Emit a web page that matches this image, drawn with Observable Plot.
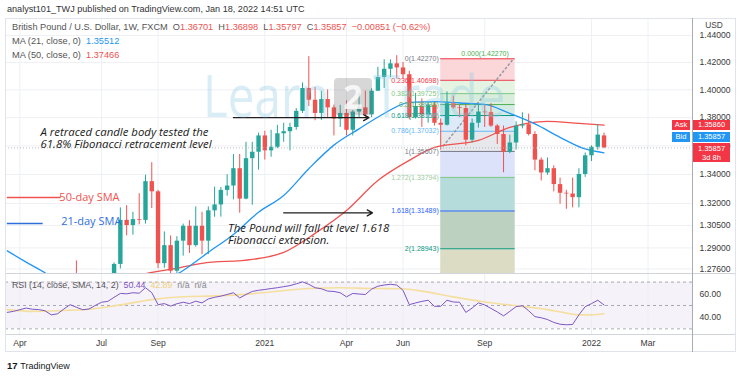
<!DOCTYPE html>
<html><head><meta charset="utf-8">
<script src="https://cdn.jsdelivr.net/npm/d3@7"></script>
<script src="https://cdn.jsdelivr.net/npm/@observablehq/plot@0.6"></script>
<style>
html,body{margin:0;padding:0;background:#fff}
#wrap{position:relative;width:740px;height:376px;overflow:hidden;background:#fff;font-family:"Liberation Sans",Arial,sans-serif;color:#333}
.a{position:absolute;white-space:nowrap;line-height:1}
.pane{position:absolute;left:0}
.ln{position:absolute;background:#e0e3eb}
.box{position:absolute;color:#fff;font-size:7.5px;text-align:center;line-height:10px}
</style></head><body>
<div id="wrap">
  <div id="mainPane" class="pane" style="top:18px"></div>
  <div id="rsiPane" class="pane" style="top:274px"></div>

  <div class="ln" style="left:5px;top:18px;width:730px;height:1px"></div>
  <div class="ln" style="left:5px;top:273px;width:730px;height:1px;background:#d1d4dc"></div>
  <div class="ln" style="left:5px;top:334px;width:730px;height:1px;background:#d1d4dc"></div>
  <div class="ln" style="left:5px;top:351px;width:730px;height:1px"></div>
  <div class="ln" style="left:5px;top:18px;width:1px;height:334px"></div>
  <div class="ln" style="left:735px;top:18px;width:1px;height:334px"></div>
  <div class="ln" style="left:692px;top:18px;width:1px;height:334px;background:#a9acb5"></div>

  <!-- watermark -->
  <div class="a" style="left:203px;top:66px;font-family:'Open Sans';font-size:58px;color:rgba(140,200,228,0.33);transform:scaleX(0.82);transform-origin:left top">Learn</div>
  <div class="a" style="left:334px;top:78px;width:38px;height:37px;border-radius:4px;background:rgba(110,110,110,0.28);color:rgba(255,255,255,0.8);font-family:'Open Sans';font-size:34px;font-weight:700;text-align:center;line-height:37px">2</div>
  <div class="a" style="left:373px;top:66px;font-family:'Open Sans';font-size:58px;color:rgba(140,200,228,0.33);transform:scaleX(0.85);transform-origin:left top">Trade</div>

  <!-- header -->
  <div class="a" style="left:7px;top:5px;font-size:9.1px;color:#333">analyst101_TWJ published on TradingView.com, Jan 18, 2022 14:51 UTC</div>
  <div class="a" style="left:12px;top:23px;font-size:9.2px;color:#555">British Pound / U.S. Dollar, 1W, FXCM&nbsp; <span>O</span><span style="color:#ef5350">1.36701</span>&nbsp; H<span style="color:#ef5350">1.36898</span>&nbsp; L<span style="color:#ef5350">1.35797</span>&nbsp; C<span style="color:#ef5350">1.35857&nbsp; −0.00851 (−0.62%)</span></div>
  <div class="a" style="left:12px;top:37px;font-size:9.2px;color:#555">MA (21, close, 0)&nbsp; <span style="color:#2196f3">1.35512</span></div>
  <div class="a" style="left:12px;top:51px;font-size:9.2px;color:#555">MA (50, close, 0)&nbsp; <span style="color:#ef5350">1.37466</span></div>

  <!-- price axis labels -->
  <div class="a" style="left:700px;top:21px;width:28px;height:10px;background:#fff;font-size:8.4px;color:#444;text-align:center">USD</div>
  <div class="box" style="left:672px;top:120px;width:18px;height:10px;background:#f23645">Ask</div>
  <div class="box" style="left:693px;top:120px;width:37px;height:10px;background:#f23645">1.35860</div>
  <div class="box" style="left:672px;top:132px;width:18px;height:10px;background:#2196f3">Bid</div>
  <div class="box" style="left:693px;top:132px;width:37px;height:10px;background:#2196f3">1.35857</div>
  <div class="box" style="left:693px;top:143px;width:37px;height:19px;background:#f23645;line-height:9px;padding-top:1px;box-sizing:border-box">1.35857<br>3d 8h</div>

  <!-- RSI legend -->
  <div class="a" style="left:12px;top:281px;font-size:8.8px;color:#555">RSI (14, close, SMA, 14, 2)&nbsp; <span style="color:#7e57c2">50.44</span>&nbsp; <span style="color:#f0d27a">42.89</span>&nbsp; <span style="color:#888">n/a&nbsp; n/a</span></div>

  <!-- footer -->
  <div class="a" style="left:7px;top:361px;font-size:9.5px;color:#131722"><b>17</b> <span style="font-size:9px">TradingView</span></div>
</div>
<script>
// ---------- data ----------
const firstWeek = "2020-03-23";
const lastWeekStop = "2022-01-18";
const opens = [1.1610,1.2460,1.2270,1.2455,1.2490,1.2365,1.2490,1.2410,1.2130,1.2165,
 1.2345,1.2670,1.2565,1.2345,1.2335,1.2485,1.2620,1.2570,1.2790,1.3085,
 1.3050,1.3090,1.3085,1.3350,1.3280,1.2795,1.2915,1.2745,1.2945,1.3045,
 1.2915,1.3045,1.2945,1.3150,1.3190,1.3290,1.3320,1.3440,1.3230,1.3510,
 1.3555,1.3670,1.3565,1.3590,1.3685,1.3700,1.3730,1.3845,1.4010,1.3925,
 1.3830,1.3930,1.3870,1.3790,1.3830,1.3710,1.3840,1.3870,1.3820,1.3990,
 1.4090,1.4150,1.4190,1.4160,1.4110,1.3800,1.3880,1.3820,1.3890,1.3760,
 1.3746,1.3900,1.3870,1.3865,1.3640,1.3760,1.3840,1.3835,1.3740,1.3680,
 1.3555,1.3620,1.3740,1.3750,1.3680,1.3500,1.3410,1.3440,1.3330,1.3270,
 1.3265,1.3240,1.3400,1.3530,1.3590,1.36701];
const highs = [1.2487,1.2486,1.2545,1.2648,1.2510,1.2645,1.2500,1.2415,1.2295,1.2375,
 1.2730,1.2813,1.2688,1.2540,1.2530,1.2670,1.2670,1.2800,1.3170,1.3185,
 1.3140,1.3267,1.3395,1.3482,1.3290,1.3007,1.2980,1.2975,1.3060,1.3083,
 1.3177,1.3140,1.3177,1.3312,1.3310,1.3398,1.3539,1.3539,1.3625,1.3625,
 1.3690,1.3703,1.3710,1.3745,1.3760,1.3760,1.3865,1.4050,1.4243,1.4017,
 1.3990,1.4000,1.3890,1.3888,1.3920,1.3850,1.3975,1.3990,1.4008,1.4165,
 1.4220,1.4220,1.4250,1.4200,1.4135,1.3975,1.3935,1.3910,1.3910,1.3790,
 1.3985,1.3955,1.3890,1.3890,1.3790,1.3890,1.3890,1.3900,1.3750,1.3740,
 1.3675,1.3770,1.3835,1.3825,1.3700,1.3515,1.3515,1.3460,1.3375,1.3290,
 1.3375,1.3440,1.3550,1.3600,1.3750,1.36898];
const lows = [1.1450,1.2255,1.2165,1.2405,1.2248,1.2365,1.2265,1.2075,1.2075,1.2160,
 1.2335,1.2505,1.2335,1.2320,1.2250,1.2440,1.2480,1.2560,1.2760,1.2980,
 1.2985,1.3055,1.3060,1.3165,1.2762,1.2765,1.2676,1.2710,1.2845,1.2863,
 1.2905,1.2855,1.2855,1.3106,1.3107,1.3250,1.3225,1.3134,1.3225,1.3188,
 1.3430,1.3500,1.3520,1.3580,1.3625,1.3565,1.3710,1.3830,1.3880,1.3778,
 1.3780,1.3800,1.3670,1.3730,1.3670,1.3670,1.3800,1.3800,1.3800,1.3990,
 1.4010,1.4090,1.4080,1.4080,1.3785,1.3790,1.3730,1.3760,1.3740,1.3570,
 1.3740,1.3860,1.3800,1.3600,1.3620,1.3725,1.3730,1.3730,1.3610,1.3412,
 1.3545,1.3570,1.3720,1.3670,1.3425,1.3355,1.3395,1.3280,1.3195,1.3160,
 1.3170,1.3170,1.3380,1.3490,1.3570,1.35797];
const closes = [1.2460,1.2270,1.2455,1.2490,1.2365,1.2490,1.2410,1.2130,1.2165,1.2345,
 1.2670,1.2565,1.2345,1.2335,1.2485,1.2620,1.2570,1.2790,1.3085,1.3050,
 1.3090,1.3085,1.3350,1.3280,1.2795,1.2915,1.2745,1.2945,1.3045,1.2915,
 1.3045,1.2945,1.3150,1.3190,1.3290,1.3320,1.3440,1.3230,1.3510,1.3555,
 1.3670,1.3565,1.3590,1.3685,1.3700,1.3730,1.3845,1.4010,1.3925,1.3830,
 1.3930,1.3870,1.3790,1.3830,1.3710,1.3840,1.3870,1.3820,1.3990,1.4090,
 1.4150,1.4190,1.4160,1.4110,1.3800,1.3880,1.3820,1.3890,1.3760,1.3746,
 1.3900,1.3870,1.3865,1.3640,1.3760,1.3840,1.3835,1.3740,1.3680,1.3555,
 1.3620,1.3740,1.3750,1.3680,1.3500,1.3410,1.3440,1.3330,1.3270,1.3265,
 1.3240,1.3400,1.3530,1.3590,1.3676,1.35857];
const rsi = [44.1,45.0,46.4,47.8,46.8,46.5,45.5,42.0,42.9,47.0,
 50.7,48.5,46.4,47.0,50.0,52.8,53.5,57.0,60.3,60.0,
 60.9,60.5,65.2,61.0,50.7,51.6,49.5,51.5,52.8,51.6,
 53.7,52.2,55.6,57.0,58.0,59.4,60.9,56.5,59.4,62.0,
 63.0,63.7,64.5,65.2,66.1,67.0,68.5,70.2,68.1,65.2,
 64.3,62.3,62.0,60.9,57.4,60.3,59.8,59.4,64.0,66.5,
 67.5,68.1,67.5,63.0,50.7,52.2,53.5,54.5,49.3,49.3,
 54.5,53.0,52.8,44.1,47.8,52.2,50.5,47.5,44.5,41.1,
 45.0,49.0,49.8,45.5,40.5,39.5,38.0,35.5,34.0,33.5,
 33.8,42.0,49.0,51.6,54.5,50.44];

// moving averages (sparse points)
const ma21Dates = ["2020-03-23","2020-04-13","2020-05-04","2020-06-08","2020-07-13","2020-08-17","2020-09-14","2020-10-05","2020-11-02","2020-11-30","2020-12-28","2021-01-25","2021-02-22","2021-03-22","2021-04-19","2021-05-17","2021-06-14","2021-07-12","2021-08-09","2021-09-06","2021-10-04","2021-11-01","2021-11-29","2021-12-27","2022-01-17"];
const ma21Values = [1.2880,1.2805,1.2735,1.2600,1.2520,1.2580,1.2680,1.2750,1.2870,1.2990,1.3140,1.3255,1.3440,1.3605,1.3720,1.3830,1.3910,1.3915,1.3905,1.3895,1.3830,1.3755,1.3660,1.3578,1.35512];
const ma50Dates = ["2020-06-01","2020-08-03","2020-08-31","2020-09-21","2020-10-26","2020-12-21","2021-01-25","2021-03-01","2021-04-05","2021-05-10","2021-06-14","2021-07-12","2021-08-30","2021-10-04","2021-11-15","2021-12-20","2022-01-17"];
const ma50Values = [1.2640,1.2700,1.2737,1.2757,1.2797,1.2823,1.2870,1.2997,1.3152,1.3358,1.3498,1.3589,1.3638,1.3730,1.3773,1.3759,1.37466];
const rsiMaDates = ["2020-03-23","2020-04-20","2020-05-18","2020-06-22","2020-07-27","2020-08-31","2020-10-05","2020-11-09","2020-12-14","2021-01-18","2021-02-22","2021-03-29","2021-05-03","2021-06-07","2021-06-28","2021-08-02","2021-09-06","2021-10-11","2021-11-15","2021-12-06","2021-12-20","2022-01-03","2022-01-17"];
const rsiMaValues = [46.5,45.0,45.5,46.8,50.5,55.0,57.5,58.2,59.5,62.2,64.5,65.2,64.5,64.3,62.3,57.4,53.0,49.8,46.5,43.5,42.0,42.0,42.9];

// fibonacci tool
const fibRatios = ["0","0.236","0.382","0.5","0.618","0.786","1","1.272","1.618","2","2.618"];
const fibPrices = [1.42270,1.40698,1.39725,1.38938,1.38152,1.37032,1.35607,1.33794,1.31489,1.28943,1.24826];
const fibStart = "2021-07-19", fibEnd = "2021-10-10";

// axes
const priceTicks = [1.44,1.42,1.40,1.38,1.36,1.34,1.32,1.305,1.29,1.276];
const timeTicks = ["2020-04-06","2020-07-06","2020-09-07","2021-01-04","2021-04-05","2021-06-07","2021-09-06","2022-01-03","2022-03-07"];
const timeTickLabels = ["Apr","Jul","Sep","2021","Apr","Jun","Sep","2022","Mar"];
const rsiLevels = [70,50,30];
const lastPrice = 1.35857;
const priceDomain = [1.2730,1.4527];

// annotations (data coordinates)
const notes = [
  {date:"2020-04-29", price:1.3656, text:"A retraced candle body tested the\n61.8% Fibonacci retracement level"},
  {date:"2020-11-24", price:1.2990, text:"The Pound will fall at level 1.618\nFibonacci extension."}
];
const maNotes = [
  {d1:"2020-03-23", d2:"2020-05-22", price:1.3241, text:"50-day SMA", tx:"2020-05-20", tp:1.3241, color:"#ef5350"},
  {d1:"2020-03-23", d2:"2020-05-02", price:1.3064, text:"21-day SMA", tx:"2020-05-22", tp:1.3078, color:"#2f6fdc"}
];
const arrows = [
  {d1:"2020-11-30", p1:1.3800, d2:"2021-04-30", p2:1.3800},
  {d1:"2021-01-25", p1:1.3136, d2:"2021-05-04", p2:1.3136}
];

// ---------- build ----------
const D = s => new Date(s + "T00:00:00Z");
const dates = d3.utcMonday.range(D(firstWeek), D(lastWeekStop));
const candles = dates.map((d,i)=>({date:d,o:opens[i],h:highs[i],l:lows[i],c:closes[i]}));
const ma21 = ma21Dates.map((s,i)=>({date:D(s),v:ma21Values[i]}));
const ma50 = ma50Dates.map((s,i)=>({date:D(s),v:ma50Values[i]}));
const rsiPts = dates.map((d,i)=>({date:d,v:rsi[i]}));
const rsiMa = rsiMaDates.map((s,i)=>({date:D(s),v:rsiMaValues[i]}));
const fibLineColor = ["#f23645","#f23645","#81c784","#4caf50","#089981","#64b5f6","#787b86","#81c784","#2962ff","#089981","#f23645"];
const fibLabelColor = ["#787b86","#f23645","#81c784","#4caf50","#089981","#64b5f6","#787b86","#9ccc9c","#2962ff","#089981","#f23645"];
const fibBandColor = ["#fbd7da","#e5f3e3","#d9eeda","#d3ebe4","#dcebf7","#e7e8eb","#dbe2fa","#b6dbdb","#bdd1c1","#dcdcc5"];
const fibLevels = fibRatios.map((r,i)=>({r, p:fibPrices[i], i, label:`${r}(${fibPrices[i].toFixed(5)})`}));
const fibBands = fibLevels.slice(0,-1).map((f,i)=>({p1:f.p, p2:fibLevels[i+1].p, i}));
const fibVisible = fibLevels.filter(f => f.p >= priceDomain[0] && f.p <= priceDomain[1]);
const timeTickDates = timeTicks.map(D);
const tickLab = new Map(timeTicks.map((s,i)=>[+D(s), timeTickLabels[i]]));
const xDomain = [new Date("2020-03-21T00:00:00Z"), new Date("2022-04-25T14:00:00Z")];
const GREEN = "#26a69a", RED = "#ef5350";
const font = "Liberation Sans, Arial, sans-serif";

const main = Plot.plot({
  width:740, height:255, marginLeft:5, marginRight:48, marginTop:0, marginBottom:0,
  style:{fontSize:"8.6px", fontFamily:font, color:"#3a3a3a", background:"transparent"},
  x:{type:"utc", domain:xDomain, axis:null},
  y:{type:"log", domain:priceDomain, axis:"right", ticks:priceTicks, tickFormat:d=>d.toFixed(5), tickSize:0, tickPadding:7, label:null},
  marks:[
    Plot.ruleY(priceTicks, {stroke:"#eef0f4"}),
    Plot.ruleX(timeTickDates, {stroke:"#eef0f4"}),
    Plot.rect(fibBands, {x1:()=>D(fibStart), x2:()=>D(fibEnd), y1:"p1", y2:"p2", fill:d=>fibBandColor[d.i], clip:true}),
    Plot.ruleY(fibVisible, {y:"p", x1:()=>D(fibStart), x2:()=>D(fibEnd), stroke:d=>fibLineColor[d.i], strokeWidth:1}),
    Plot.line([{date:D("2021-07-22"),p:1.3600},{date:D("2021-10-08"),p:1.4227}], {x:"date", y:"p", stroke:"#9598a1", strokeDasharray:"1.5,3", clip:true}),
    Plot.line(ma50, {x:"date", y:"v", stroke:"#ef5350", strokeWidth:1.3, curve:"monotone-x", clip:true}),
    Plot.line(ma21, {x:"date", y:"v", stroke:"#2196f3", strokeWidth:1.3, curve:"monotone-x", clip:true}),
    Plot.ruleX(candles, {x:"date", y1:"l", y2:"h", stroke:d=>d.c>=d.o?GREEN:RED, strokeWidth:1, clip:true}),
    Plot.ruleX(candles, {x:"date", y1:"o", y2:"c", stroke:d=>d.c>=d.o?GREEN:RED, strokeWidth:4.4, clip:true}),
    Plot.ruleY([lastPrice], {stroke:"#b0b3bb", strokeOpacity:0.9, strokeDasharray:"1,2"}),
    Plot.text(fibVisible, {x:()=>D(fibStart), y:"p", text:"label", textAnchor:"end", dx:-2, fill:d=>fibLabelColor[d.i], fontSize:7}),
    Plot.text([fibLevels[0]], {x:()=>D("2021-08-11"), y:"p", text:d=>"0.000"+d.label.slice(1), textAnchor:"start", dy:-5, fill:"#4caf50", fontSize:7}),
    Plot.ruleY(maNotes, {y:"price", x1:d=>D(d.d1), x2:d=>D(d.d2), stroke:"color", strokeWidth:1.5}),
    Plot.text(maNotes, {x:d=>D(d.tx), y:"tp", text:"text", textAnchor:"start", fill:"color", fontSize:11, fontFamily:"Open Sans"}),
    Plot.text(notes, {x:d=>D(d.date), y:"price", text:"text", textAnchor:"start", lineAnchor:"middle", lineHeight:1.05, fill:"#1a1a1a", fontSize:11.4, fontStyle:"italic", fontFamily:"Open Sans"}),
    Plot.arrow(arrows, {x1:d=>D(d.d1), y1:"p1", x2:d=>D(d.d2), y2:"p2", stroke:"#1f1f1f", strokeWidth:1.3, headLength:7})
  ]
});
document.getElementById("mainPane").appendChild(main);

const rsiPlot = Plot.plot({
  width:740, height:78, marginLeft:5, marginRight:48, marginTop:0, marginBottom:18,
  style:{fontSize:"8.6px", fontFamily:font, color:"#3a3a3a", background:"transparent"},
  x:{type:"utc", domain:xDomain, ticks:timeTickDates, tickFormat:d=>tickLab.get(+d), tickSize:0, tickPadding:5, label:null},
  y:{domain:[25.2,76.5], axis:"right", ticks:[40,60], tickFormat:d=>d.toFixed(2), tickSize:0, tickPadding:7, label:null},
  marks:[
    Plot.rect([{a:30,b:70}], {x1:()=>xDomain[0], x2:()=>xDomain[1], y1:"a", y2:"b", fill:"#7e57c2", fillOpacity:0.08}),
    Plot.ruleX(timeTickDates, {stroke:"#eceef3"}),
    Plot.ruleY(rsiLevels, {stroke:"#9598a1", strokeDasharray:"3,3", strokeOpacity:0.8}),
    Plot.line(rsiMa, {x:"date", y:"v", stroke:"#f5df9f", strokeWidth:1.6, curve:"monotone-x"}),
    Plot.line(rsiPts, {x:"date", y:"v", stroke:"#7e57c2", strokeWidth:1})
  ]
});
document.getElementById("rsiPane").appendChild(rsiPlot);
</script>
</body></html>
